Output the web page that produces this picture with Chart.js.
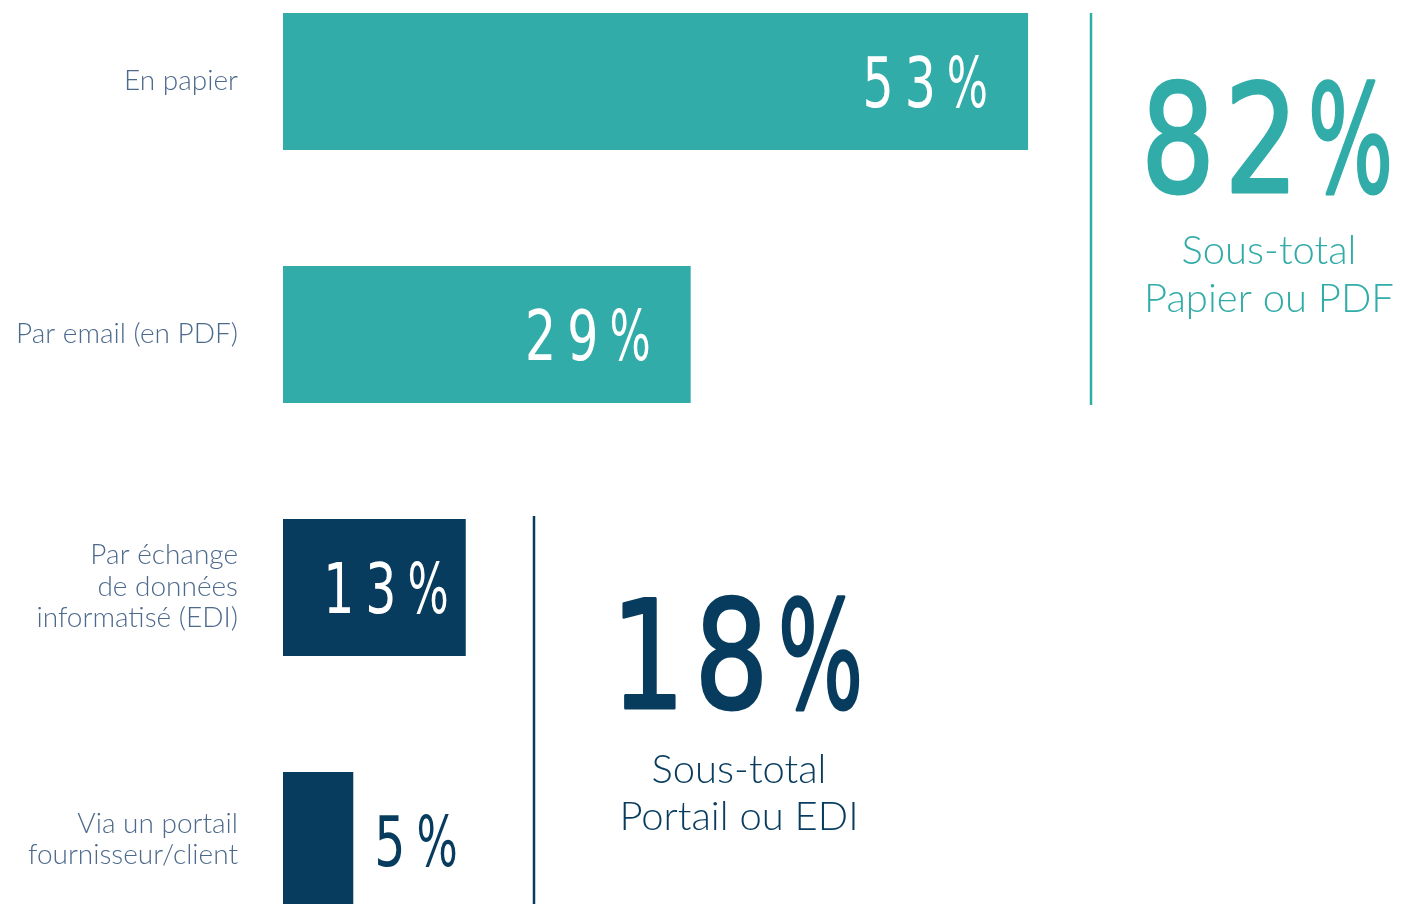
<!DOCTYPE html>
<html>
<head>
<meta charset="utf-8">
<script src="https://cdn.jsdelivr.net/npm/chart.js@4/dist/chart.umd.min.js"></script>
<style>
html,body{margin:0;padding:0;background:#fff;}
#wrap{position:relative;width:1402px;height:904px;overflow:hidden;}
#c{position:absolute;left:0;top:-45px;}
</style>
</head>
<body>
<div id="wrap"><canvas id="c" width="1402" height="1012"></canvas></div>
<script>
// ---- data ----
const categories = [
  ["En papier"],
  ["Par email (en PDF)"],
  ["Par échange", "de données", "informatisé (EDI)"],
  ["Via un portail", "fournisseur/client"]
];
const shares = [53, 29, 13, 5];
const barColors = ["#31aca9", "#31aca9", "#083c5e", "#083c5e"];
const subtotalValues = [82, 18];
const subtotalTitles = [["Sous-total", "Papier ou PDF"], ["Sous-total", "Portail ou EDI"]];
const subtotalColors = ["#31aca9", "#083c5e"];

const OFF = 45; // canvas is shifted up by this many px
const LABEL_COLOR = "#4d6a8c";

function drawCondensed(ctx, text, x, y, size, sx, psx, spacing, align, color, embolden) {
  ctx.save();
  ctx.font = `400 ${size}px "DejaVu Sans"`;
  ctx.fillStyle = color;
  ctx.strokeStyle = color;
  ctx.textBaseline = "alphabetic";
  ctx.textAlign = "left";
  const chars = [...text];
  const ws = chars.map(ch => ctx.measureText(ch).width * (ch === "%" ? psx : sx));
  const total = ws.reduce((a, b) => a + b, 0) + spacing * (chars.length - 1);
  let cx = align === "right" ? x - total : align === "center" ? x - total / 2 : x;
  chars.forEach((ch, i) => {
    ctx.save();
    ctx.translate(cx, y);
    ctx.scale(ch === "%" ? psx : sx, 1);
    ctx.fillText(ch, 0, 0);
    if (embolden) { ctx.lineWidth = embolden; ctx.lineJoin = "round"; ctx.strokeText(ch, 0, 0); }
    ctx.restore();
    cx += ws[i] + spacing;
  });
  ctx.restore();
  return total;
}

const overlay = {
  id: "overlay",
  afterDatasetsDraw(chart) {
    const ctx = chart.ctx;
    const bars = chart.getDatasetMeta(0).data;
    // category labels
    ctx.save();
    ctx.font = '300 28px "Lato"';
    ctx.fillStyle = LABEL_COLOR;
    ctx.textAlign = "right";
    ctx.textBaseline = "alphabetic";
    bars.forEach((b, i) => {
      const lines = categories[i];
      lines.forEach((ln, j) => {
        ctx.fillText(ln, 238, b.y + 8 + (j - (lines.length - 1) / 2) * 31.5);
      });
    });
    ctx.restore();
    // value labels
    bars.forEach((b, i) => {
      const txt = shares[i] + "%";
      const left = b.base, right = b.x, w = right - left;
      const base = b.y + 25;
      ctx.save();
      ctx.font = '400 70px "DejaVu Sans"';
      let tw = 0;
      [...txt].forEach(ch => tw += ctx.measureText(ch).width * (ch === "%" ? 0.62 : 0.7));
      tw += 11 * (txt.length - 1);
      ctx.restore();
      if (w > tw + 80) {
        drawCondensed(ctx, txt, right - 40, base, 70, 0.7, 0.62, 11, "right", "#ffffff", 0);
      } else if (w > tw + 20) {
        drawCondensed(ctx, txt, right - 17, base, 70, 0.7, 0.62, 11, "right", "#ffffff", 0);
      } else {
        drawCondensed(ctx, txt, right + 21, base, 70, 0.7, 0.62, 11, "left", barColors[i], 0);
      }
    });
    // vertical separators
    const h = bars[0].height;
    ctx.save();
    ctx.lineWidth = 2.5;
    ctx.strokeStyle = subtotalColors[0];
    ctx.beginPath();
    ctx.moveTo(1091, bars[0].y - h / 2);
    ctx.lineTo(1091, bars[1].y + h / 2 + 2);
    ctx.stroke();
    ctx.strokeStyle = subtotalColors[1];
    ctx.beginPath();
    ctx.moveTo(534, bars[2].y - h / 2 - 3);
    ctx.lineTo(534, chart.height);
    ctx.stroke();
    ctx.restore();
    // subtotals
    const groups = [
      {cx: 1267, numBase: 192 + OFF, l1: 264 + OFF, l2: 312 + OFF},
      {cx: 737, numBase: 708 + OFF, l1: 783 + OFF, l2: 830 + OFF}
    ];
    groups.forEach((g, i) => {
      drawCondensed(ctx, subtotalValues[i] + "%", g.cx, g.numBase, 150, 0.78, 0.6, 9, "center", subtotalColors[i], 3);
      ctx.save();
      ctx.font = '300 40px "Lato"';
      ctx.fillStyle = subtotalColors[i];
      ctx.textAlign = "center";
      ctx.textBaseline = "alphabetic";
      ctx.fillText(subtotalTitles[i][0], g.cx + 2, g.l1);
      ctx.fillText(subtotalTitles[i][1], g.cx + 2, g.l2);
      ctx.restore();
    });
  }
};

new Chart(document.getElementById("c"), {
  type: "bar",
  data: {
    labels: categories,
    datasets: [{
      data: shares,
      backgroundColor: barColors,
      borderWidth: 0,
      categoryPercentage: 1,
      barPercentage: 137 / 253
    }]
  },
  options: {
    indexAxis: "y",
    responsive: false,
    animation: false,
    layout: {padding: {left: 283, right: 0, top: 0, bottom: 0}},
    plugins: {legend: {display: false}, tooltip: {enabled: false}},
    scales: {
      x: {display: false, min: 0, max: 79.6},
      y: {display: false}
    }
  },
  plugins: [overlay]
});
</script>
</body>
</html>
